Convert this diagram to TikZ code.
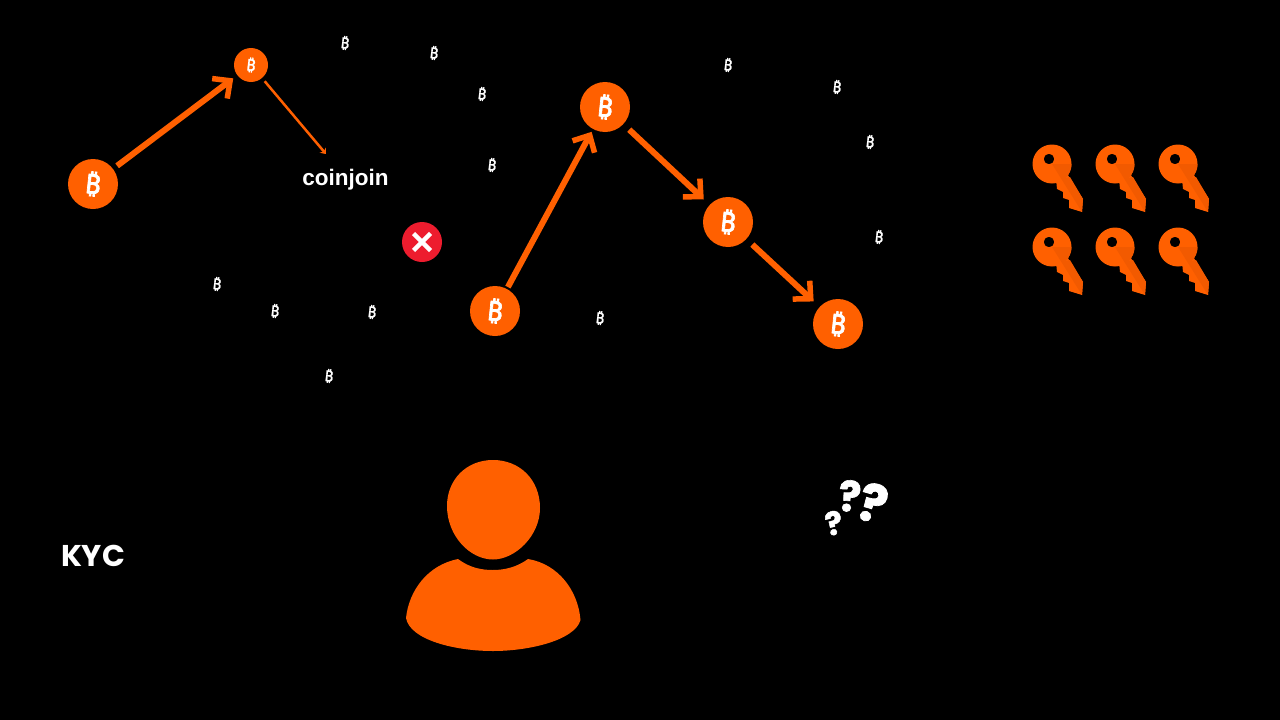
\documentclass[tikz,border=0pt]{standalone}
\usepackage{fontspec}
\setmainfont{Liberation Sans}
\newfontfamily\coinfont[FakeBold=2.5]{Noto Sans}
\newfontfamily\dustfont[FakeBold=1.5]{Noto Sans}
\newfontfamily\kycfont{Poppins}
\newfontfamily\askfont[FakeBold=1.5]{Poppins}
\usetikzlibrary{arrows.meta}
\definecolor{coinorange}{HTML}{FF6000}
\definecolor{keyshade}{HTML}{F25A00}
\definecolor{crossred}{HTML}{ED1C2E}
\tikzset{
	coin/.style={circle, fill=coinorange, minimum size=50pt, inner sep=0pt, text=white, font=\coinfont\fontsize{27}{27}\selectfont},
	smallcoin/.style={coin, minimum size=34pt, font=\dustfont\fontsize{16}{16}\selectfont},
	dust/.style={inner sep=0pt, text=white, font=\dustfont\fontsize{15}{15}\selectfont},
	moveline/.style={draw=coinorange, line width=6pt, -{Straight Barb[length=13pt, width=25pt, line width=5.5pt]}},
	thinline/.style={draw=coinorange, line width=2.5pt, -{Stealth[length=5pt, width=8pt]}},
	bigtext/.style={inner sep=0pt, text=white},
	key/.pic={
		\fill[coinorange, even odd rule] (0,0) circle (19.5) (-3,-5) circle (5.3);
		\fill[coinorange] (4,15) -- (14,8) -- (31,35) -- (30,48) -- (17,44) -- (17,36) -- (11,34) -- (11,28) -- (5,25) -- cycle;
		\fill[keyshade] (0,0) -- (19.5,0) arc (0:46:19.5) -- (18,13) -- (31,35) -- (30,48) -- cycle;
	},
}
\begin{document}
\begin{tikzpicture}[x=1pt, y=-1pt]
	\useasboundingbox[fill=black] (0,0) rectangle (1280,720);
	% coins
	\node[coin] (start) at (93,184) {\rotatebox{-6}{₿}};
	\node[smallcoin] (mix) at (251,65) {\rotatebox{-6}{₿}};
	\node[coin] (low) at (495,311) {\rotatebox{-6}{₿}};
	\node[coin] (top) at (605,107) {\rotatebox{-6}{₿}};
	\node[coin] (mid) at (728,222) {\rotatebox{-6}{₿}};
	\node[coin] (end) at (838,324) {\rotatebox{-6}{₿}};
	\coordinate (mixend) at (326,154);
	% arrows
	\draw[moveline, shorten <=5pt, shorten >=5pt] (start) -- (mix);
	\draw[thinline, shorten <=4pt] (mix) -- (mixend);
	\draw[moveline, shorten <=2pt, shorten >=3pt] (low) -- (top);
	\draw[moveline, shorten <=8pt, shorten >=8pt] (top) -- (mid);
	\draw[moveline, shorten <=8pt, shorten >=8pt] (mid) -- (end);
	% scattered small coins
	\foreach \x/\y [count=\n] in {345/43,434/53,482/94,492/165,217/284,275/311,372/312,329/376,600/318,728/65,837/87,870/142,879/237}
		\node[dust] (dust\n) at (\x,\y) {\rotatebox{-6}{₿}};
	\node[inner sep=0pt, text=white, font=\bfseries\fontsize{22.5}{22.5}\selectfont] (coinjoin) at (345.5,180) {coinjoin};
	\node[circle, fill=crossred, minimum size=40pt, inner sep=0pt] (cross) at (422,242) {};
	\draw[white, line width=4.5pt] (413.5,233.5) -- (430.5,250.5) (430.5,233.5) -- (413.5,250.5);
	% keys
	\foreach \y in {164,247}
		\foreach \x in {1052,1115,1178}
			\pic at (\x,\y) {key};
	% person
	\fill[coinorange] (493,460) .. controls (520,460) and (540,480) .. (540,508) .. controls (540,536) and (515,559.5) .. (493,559.5) .. controls (470,559.5) and (447,536) .. (447,506) .. controls (447,480) and (466,460) .. (493,460) -- cycle;
	\fill[coinorange] (458,559) .. controls (470,568) and (482,570) .. (493,570) .. controls (505,570) and (517,567) .. (528,559) .. controls (558,564) and (578,590) .. (580.5,620) .. controls (575,640) and (530,651) .. (493,651) .. controls (455,651) and (410,640) .. (406,618) .. controls (409,590) and (428,565) .. (458,559) -- cycle;
	\node[bigtext, font=\kycfont\bfseries\fontsize{30}{30}\selectfont] (kyc) at (93,556) {KYC};
	% question marks
	\node[bigtext, rotate=-3, font=\askfont\bfseries\fontsize{42}{42}\selectfont] (askmid) at (850,496) {?};
	\node[bigtext, rotate=-16, font=\askfont\bfseries\fontsize{52}{52}\selectfont] (askbig) at (873,503) {?};
	\node[bigtext, rotate=12, font=\askfont\bfseries\fontsize{32}{32}\selectfont] (asksmall) at (834,523) {?};
\end{tikzpicture}
\end{document}
